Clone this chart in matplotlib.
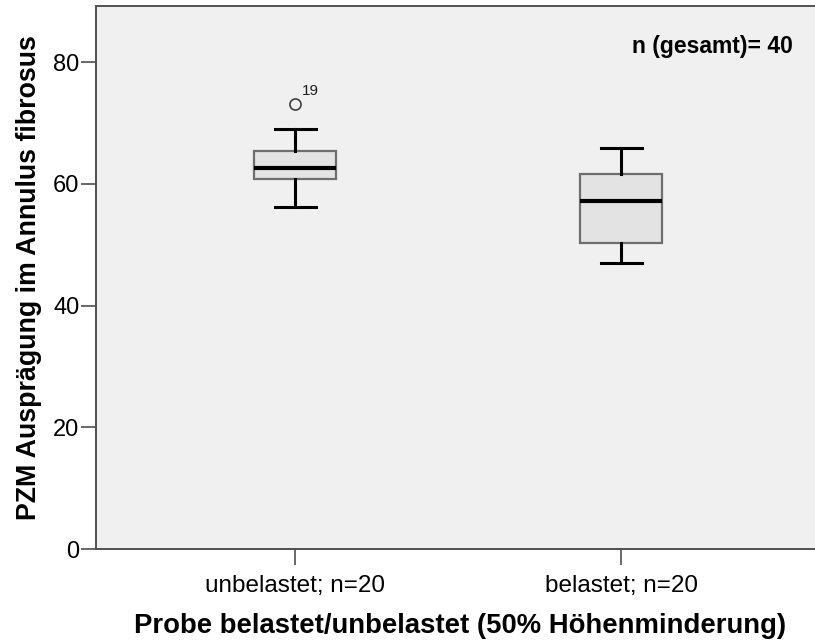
import matplotlib
matplotlib.use("Agg")
import matplotlib.pyplot as plt

plt.rcParams['font.family'] = ['Liberation Sans', 'DejaVu Sans']

# Five-number summaries per group (whisker low, Q1, median, Q3, whisker high)
groups = ["unbelastet; n=20", "belastet; n=20"]
whisker_low = [56.2, 47.0]
q1 = [60.7, 50.2]
median = [62.6, 57.1]
q3 = [65.3, 61.6]
whisker_high = [69.0, 65.8]
outliers = [[73.1], []]
outlier_ids = [["19"], []]

y_ticks = [0, 20, 40, 60, 80]

stats = []
for i, g in enumerate(groups):
    stats.append(dict(label=g, whislo=whisker_low[i], q1=q1[i], med=median[i],
                      q3=q3[i], whishi=whisker_high[i], fliers=outliers[i]))

fig = plt.figure(figsize=(8.15, 6.41), dpi=100)
fig.patch.set_facecolor("white")
ax = fig.add_axes([96 / 815, 1 - 549 / 641, 1 - 96 / 815 + 0.01, (549 - 6) / 641])
ax.set_facecolor("#f0f0f0")

positions = [1, 2]
bp = ax.bxp(stats, positions=positions, widths=0.252, patch_artist=True,
            showfliers=True,
            boxprops=dict(facecolor="#e3e3e3", edgecolor="#6e6e6e", linewidth=1.6),
            medianprops=dict(color="black", linewidth=3.0),
            whiskerprops=dict(color="black", linewidth=2.2),
            capprops=dict(color="black", linewidth=2.2),
            capwidths=0.126,
            flierprops=dict(marker="o", markerfacecolor="none",
                            markeredgecolor="#404040", markersize=8,
                            markeredgewidth=1.2))

for pos, vals, ids in zip(positions, outliers, outlier_ids):
    for v, lab in zip(vals, ids):
        ax.annotate(lab, (pos, v), xytext=(5, 4), textcoords="offset points",
                    fontsize=11, color="#202020", ha="left", va="bottom")

ax.set_xlim(0.388, 2.62)
ax.set_ylim(0, 89.2)
ax.set_yticks(y_ticks)
ax.set_yticklabels([str(t) for t in y_ticks])
ax.set_xticks(positions)
ax.set_xticklabels(groups)

for side in ["left", "bottom", "top", "right"]:
    ax.spines[side].set_color("#505050")
    ax.spines[side].set_linewidth(1.4)

ax.tick_params(axis="y", direction="out", length=11, width=1.1, color="#404040",
               labelsize=17, pad=1, labelcolor="black")
ax.tick_params(axis="x", direction="out", length=11.5, width=1.1, color="#404040",
               labelsize=17.5, pad=7, labelcolor="black")

ax.set_ylabel("PZM Ausprägung im Annulus fibrosus", fontsize=19.3, fontweight="bold",
              labelpad=8)
ax.set_xlabel("Probe belastet/unbelastet (50% Höhenminderung)", fontsize=19.8,
              fontweight="bold", labelpad=12)

fig.text(793 / 815, 1 - 47 / 641, "n (gesamt)= 40", fontsize=16.5, fontweight="bold",
         ha="right", va="center")

fig.savefig("out.png", dpi=100)
